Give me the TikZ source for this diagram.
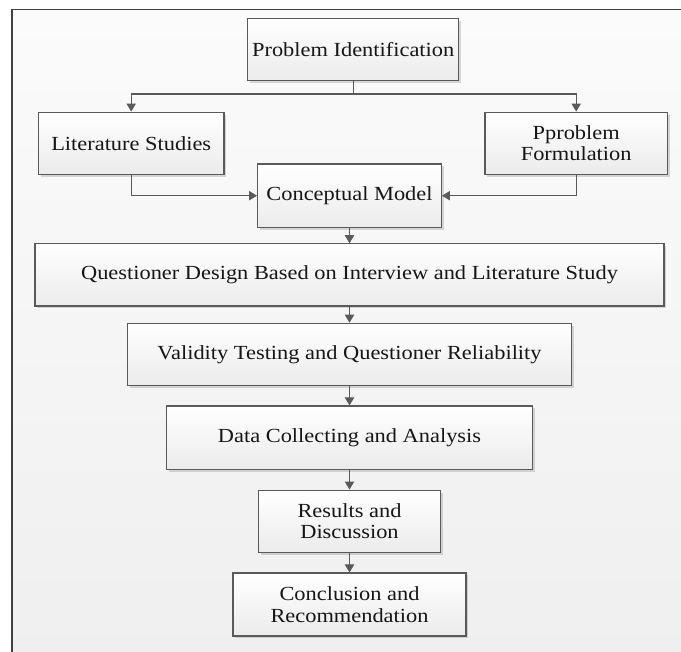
\documentclass[tikz,border=0pt]{standalone}
\usepackage{fontspec}
\setmainfont[FakeStretch=1.12]{Liberation Serif}
\usetikzlibrary{arrows.meta,shadows}
\definecolor{FrameGray}{HTML}{404040}
\definecolor{LineGray}{HTML}{5A5A5A}
\definecolor{BoxBottom}{HTML}{EBEBEB}
\definecolor{PageTop}{HTML}{FBFBFB}
\definecolor{PageBottom}{HTML}{EFEFEF}
\definecolor{InkGray}{HTML}{161616}

\tikzset{
  stepbox/.style={rectangle, draw=LineGray, line width=0.9pt, top color=white, bottom color=BoxBottom,
    minimum height=46.6pt, inner sep=0pt, align=center, text=InkGray,
    font=\fontsize{15pt}{16pt}\selectfont,
    drop shadow={shadow xshift=1.8pt, shadow yshift=-1.8pt, fill=black, opacity=0.14}},
  flow/.style={draw=LineGray, line width=0.8pt, -{Triangle[length=6pt,width=7pt]}}
}

\begin{document}
\begin{tikzpicture}[x=0.75pt,y=0.75pt,yscale=-1,xscale=1]
  \useasboundingbox (0,0) rectangle (681,652);
  \clip (0,0) rectangle (681,652);

  %Page frame
  \node[anchor=north west, inner sep=0pt, minimum width=520pt, minimum height=490pt,
    top color=PageTop, bottom color=PageBottom] (page) at (12,9.5) {};
  \draw[FrameGray, line width=1pt] (page.south west) -- (page.north west) -- (page.north east);

  %Steps
  \node[stepbox, minimum width=158.25pt] (ident) at (353.2,49.2) {Problem Identification};
  \node[stepbox, minimum width=139.3pt] (lit) at (131.2,143.2) {Literature Studies};
  \node[stepbox, minimum width=136.7pt] (form) at (576.2,143.2) {Pproblem\\Formulation};
  \node[stepbox, minimum width=137.8pt, minimum height=47.5pt] (model) at (349.5,195.7) {Conceptual Model};
  \node[stepbox, minimum width=471.8pt] (design) at (349.5,274.9) {Questioner Design Based on Interview and Literature Study};
  \node[stepbox, minimum width=333.5pt] (valid) at (349.5,354.4) {Validity Testing and Questioner Reliability};
  \node[stepbox, minimum width=274.1pt, minimum height=47.5pt] (data) at (349.5,437.7) {Data Collecting and Analysis};
  \node[stepbox, minimum width=137pt] (result) at (349.5,521.2) {Results and\\Discussion};
  \node[stepbox, minimum width=174.75pt, minimum height=47.2pt] (concl) at (349.5,604.5) {Conclusion and\\Recommendation};

  %Connectors
  \coordinate (split) at (353.2,94);
  \draw[flow] (ident.south) -- (split) -| (lit.north);
  \draw[flow] (split) -| (form.north);
  \draw[flow] (lit.south) |- (model.west);
  \draw[flow] (form.south) |- (model.east);
  \foreach \a/\b in {model/design, design/valid, valid/data, data/result, result/concl}
    \draw[flow] (\a) -- (\b);
\end{tikzpicture}
\end{document}
